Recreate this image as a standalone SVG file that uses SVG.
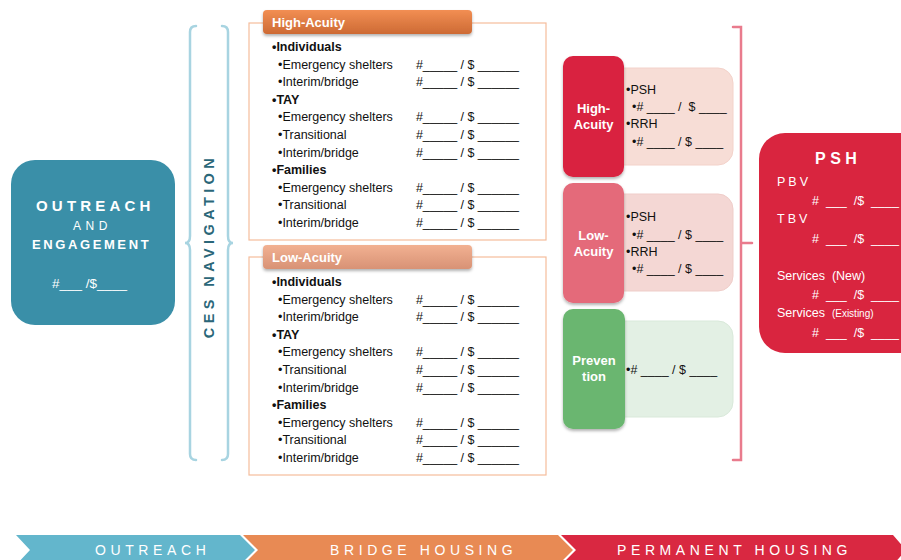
<svg xmlns="http://www.w3.org/2000/svg" width="901" height="560" viewBox="0 0 901 560">
  <defs>
    <linearGradient id="gHigh" x1="0" y1="0" x2="0" y2="1">
      <stop offset="0" stop-color="#f28e53"/>
      <stop offset="1" stop-color="#cd6a34"/>
    </linearGradient>
    <linearGradient id="gLow" x1="0" y1="0" x2="0" y2="1">
      <stop offset="0" stop-color="#f2b192"/>
      <stop offset="1" stop-color="#d89275"/>
    </linearGradient>
    <filter id="shadow" x="-10%" y="-20%" width="130%" height="160%">
      <feDropShadow dx="0" dy="2" stdDeviation="1.5" flood-color="#000" flood-opacity="0.3"/>
    </filter>
  </defs>
  <style>
    text { font-family: "Liberation Sans", Arial, sans-serif; }
    .row { font-size: 12.5px; fill: #111; }
    .head { font-size: 12.5px; font-weight: bold; fill: #111; }
    .tab { font-size: 13px; font-weight: bold; fill: #fff; }
    .frame { fill: #fff; stroke: #f5bd9c; stroke-width: 1.2; }
    .sub { font-size: 12.5px; fill: #111; }
    .white { fill: #fff; }
    .band { font-size: 14px; fill: #fff; letter-spacing: 4.6px; }
    .psh { font-size: 12.5px; fill: #fff; }
  </style>

  <rect width="901" height="560" fill="#fff"/>

  <!-- Outreach and engagement -->
  <g id="outreach">
    <rect x="11" y="160" width="164" height="165" rx="24" fill="#3a8fa8"/>
    <text x="36" y="211" class="white" font-size="15" font-weight="bold" letter-spacing="4.2">OUTREACH</text>
    <text x="73" y="230" class="white" font-size="12" letter-spacing="4.5">AND</text>
    <text x="32" y="249" class="white" font-size="13" font-weight="bold" letter-spacing="2.6">ENGAGEMENT</text>
    <text x="52" y="288" class="white" font-size="13.5" xml:space="preserve">#___ /$____</text>
  </g>

  <!-- Connectors: braces and bracket -->
  <g id="connectors" fill="none" stroke-linecap="round">
    <path d="M196,26 Q190,26 190,32 L190,236 Q190,243 185,243 Q190,243 190,250 L190,454 Q190,460 196,460" stroke="#a8d4e1" stroke-width="2.5"/>
    <path d="M222,26 Q228,26 228,32 L228,236 Q228,243 233,243 Q228,243 228,250 L228,454 Q228,460 222,460" stroke="#a8d4e1" stroke-width="2.5"/>
    <path d="M733,27 L741,27 L741,460 L733,460 M741,243 L752,243" stroke="#e97b8d" stroke-width="2.5"/>
  </g>

  <g id="ces-navigation">
    <text transform="translate(214,246) rotate(-90)" text-anchor="middle" font-size="14.5" font-weight="bold" fill="#2b6779" letter-spacing="4.4">CES NAVIGATION</text>
  </g>

  <!-- High-Acuity bridge housing -->
  <g id="bridge-high">
    <rect class="frame" x="249" y="23" width="297" height="217"/>
    <rect x="263" y="10" width="209" height="24" rx="4" fill="url(#gHigh)" filter="url(#shadow)"/>
    <text x="272" y="27" class="tab">High-Acuity</text>
    <text x="272" y="51" class="head">•Individuals</text>
    <text x="278" y="68.6" class="row">•Emergency shelters</text>
    <text x="278" y="86.2" class="row">•Interim/bridge</text>
    <text x="272" y="103.8" class="head">•TAY</text>
    <text x="278" y="121.4" class="row">•Emergency shelters</text>
    <text x="278" y="139" class="row">•Transitional</text>
    <text x="278" y="156.6" class="row">•Interim/bridge</text>
    <text x="272" y="174.2" class="head">•Families</text>
    <text x="278" y="191.8" class="row">•Emergency shelters</text>
    <text x="278" y="209.4" class="row">•Transitional</text>
    <text x="278" y="227" class="row">•Interim/bridge</text>
    <g class="row" xml:space="preserve">
      <text x="416" y="68.6" textLength="103" lengthAdjust="spacing">#_____ / $ ______</text>
      <text x="416" y="86.2" textLength="103" lengthAdjust="spacing">#_____ / $ ______</text>
      <text x="416" y="121.4" textLength="103" lengthAdjust="spacing">#_____ / $ ______</text>
      <text x="416" y="139" textLength="103" lengthAdjust="spacing">#_____ / $ ______</text>
      <text x="416" y="156.6" textLength="103" lengthAdjust="spacing">#_____ / $ ______</text>
      <text x="416" y="191.8" textLength="103" lengthAdjust="spacing">#_____ / $ ______</text>
      <text x="416" y="209.4" textLength="103" lengthAdjust="spacing">#_____ / $ ______</text>
      <text x="416" y="227" textLength="103" lengthAdjust="spacing">#_____ / $ ______</text>
    </g>
  </g>

  <!-- Low-Acuity bridge housing -->
  <g id="bridge-low">
    <rect class="frame" x="249" y="257" width="297" height="218" stroke="#f8d3c0"/>
    <rect x="263" y="245" width="209" height="24" rx="4" fill="url(#gLow)" filter="url(#shadow)"/>
    <text x="272" y="262" class="tab">Low-Acuity</text>
    <text x="272" y="286" class="head">•Individuals</text>
    <text x="278" y="303.6" class="row">•Emergency shelters</text>
    <text x="278" y="321.2" class="row">•Interim/bridge</text>
    <text x="272" y="338.8" class="head">•TAY</text>
    <text x="278" y="356.4" class="row">•Emergency shelters</text>
    <text x="278" y="374" class="row">•Transitional</text>
    <text x="278" y="391.6" class="row">•Interim/bridge</text>
    <text x="272" y="409.2" class="head">•Families</text>
    <text x="278" y="426.8" class="row">•Emergency shelters</text>
    <text x="278" y="444.4" class="row">•Transitional</text>
    <text x="278" y="462" class="row">•Interim/bridge</text>
    <g class="row" xml:space="preserve">
      <text x="416" y="303.6" textLength="103" lengthAdjust="spacing">#_____ / $ ______</text>
      <text x="416" y="321.2" textLength="103" lengthAdjust="spacing">#_____ / $ ______</text>
      <text x="416" y="356.4" textLength="103" lengthAdjust="spacing">#_____ / $ ______</text>
      <text x="416" y="374" textLength="103" lengthAdjust="spacing">#_____ / $ ______</text>
      <text x="416" y="391.6" textLength="103" lengthAdjust="spacing">#_____ / $ ______</text>
      <text x="416" y="426.8" textLength="103" lengthAdjust="spacing">#_____ / $ ______</text>
      <text x="416" y="444.4" textLength="103" lengthAdjust="spacing">#_____ / $ ______</text>
      <text x="416" y="462" textLength="103" lengthAdjust="spacing">#_____ / $ ______</text>
    </g>
  </g>

  <!-- Permanent housing: High-Acuity -->
  <g id="ph-high">
    <rect x="600" y="68" width="133" height="97" rx="15" fill="#f7ddd6" stroke="#f3d2ca" stroke-width="1"/>
    <rect x="563" y="56" width="61" height="121" rx="10" fill="#d9233f" filter="url(#shadow)"/>
    <text x="593.5" y="113" class="tab" text-anchor="middle">High-</text>
    <text x="593.5" y="129" class="tab" text-anchor="middle">Acuity</text>
    <text x="626" y="94" class="sub">•PSH</text>
    <text x="632" y="111" class="sub" xml:space="preserve">•# ____ /  $ ____</text>
    <text x="626" y="128" class="sub">•RRH</text>
    <text x="632" y="146" class="sub" xml:space="preserve">•# ____ / $ ____</text>
  </g>

  <!-- Permanent housing: Low-Acuity -->
  <g id="ph-low">
    <rect x="600" y="194" width="133" height="97" rx="15" fill="#f4d7d4" stroke="#efcdc9" stroke-width="1"/>
    <rect x="563" y="183" width="61" height="120" rx="10" fill="#e46a7a" filter="url(#shadow)"/>
    <text x="593.5" y="240" class="tab" text-anchor="middle">Low-</text>
    <text x="593.5" y="256" class="tab" text-anchor="middle">Acuity</text>
    <text x="626" y="221" class="sub">•PSH</text>
    <text x="632" y="239" class="sub" xml:space="preserve">•# ____ / $ ____</text>
    <text x="626" y="256" class="sub">•RRH</text>
    <text x="632" y="273" class="sub" xml:space="preserve">•# ____ / $ ____</text>
  </g>

  <!-- Prevention -->
  <g id="prevention">
    <rect x="600" y="321" width="133" height="96" rx="15" fill="#e3f0e4" stroke="#d9e9da" stroke-width="1"/>
    <rect x="563" y="309" width="62" height="120" rx="10" fill="#6ab66f" filter="url(#shadow)"/>
    <text x="594" y="365" class="tab" text-anchor="middle">Preven</text>
    <text x="594" y="381" class="tab" text-anchor="middle">tion</text>
    <text x="626" y="374" class="sub" xml:space="preserve">•# ____ / $ ____</text>
  </g>

  <!-- PSH -->
  <g id="psh">
    <rect x="759" y="133" width="170" height="220" rx="26" fill="#d9253f"/>
    <text x="815" y="164" class="white" font-size="16" font-weight="bold" letter-spacing="4.5">PSH</text>
    <text x="777" y="186" class="psh" letter-spacing="3">PBV</text>
    <text x="812" y="205" class="psh" xml:space="preserve">#  ___  /$  ____</text>
    <text x="777" y="223" class="psh" letter-spacing="3">TBV</text>
    <text x="812" y="243" class="psh" xml:space="preserve">#  ___  /$  ____</text>
    <text x="777" y="280" class="psh" xml:space="preserve">Services  (New)</text>
    <text x="812" y="299" class="psh" xml:space="preserve">#  ___  /$  ____</text>
    <text x="777" y="317" class="psh" xml:space="preserve">Services  <tspan font-size="10">(Existing)</tspan></text>
    <text x="812" y="337" class="psh" xml:space="preserve">#  ___  /$  ____</text>
  </g>

  <!-- Phase band -->
  <g id="band-outreach">
    <polygon points="16,535 240,535 255,550 240,565 16,565 30,550" fill="#63b6cc"/>
    <text x="95" y="555" class="band">OUTREACH</text>
  </g>
  <g id="band-bridge">
    <polygon points="243,535 558,535 573,550 558,565 243,565 258,550" fill="#e88a54"/>
    <text x="330" y="555" class="band">BRIDGE HOUSING</text>
  </g>
  <g id="band-permanent">
    <polygon points="561,535 893,535 906,550 893,565 561,565 576,550" fill="#d92841"/>
    <text x="617" y="555" class="band">PERMANENT HOUSING</text>
  </g>
</svg>
